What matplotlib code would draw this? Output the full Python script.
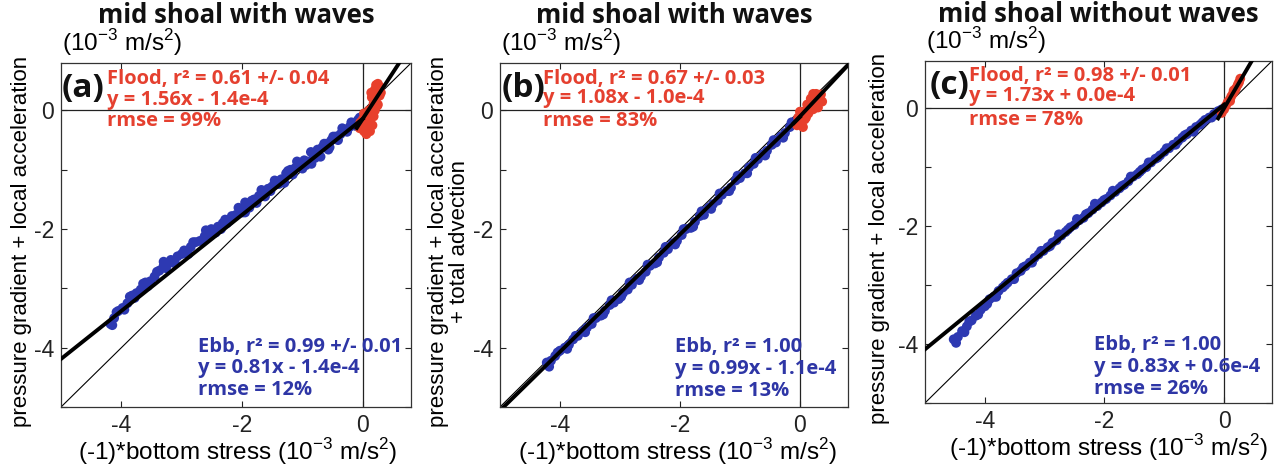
import numpy as np
import matplotlib
matplotlib.use('Agg')
import matplotlib.pyplot as plt

plt.rcParams['font.family'] = ['Liberation Sans', 'DejaVu Sans']
plt.rcParams['mathtext.fontset'] = 'custom'
plt.rcParams['mathtext.rm'] = 'Liberation Sans'

# ---- data (units 1e-3 m/s^2) ----
titles = ['mid shoal with waves', 'mid shoal with waves', 'mid shoal without waves']
panel_tags = ['(a)', '(b)', '(c)']
ylabels = ['pressure gradient + local acceleration',
           'pressure gradient + local acceleration\n+ total advection',
           'pressure gradient + local acceleration']

flood_fit = [(1.56, -0.14), (1.08, -0.10), (1.73, 0.00)]
ebb_fit = [(0.81, -0.14), (0.99, -0.11), (0.83, 0.06)]

flood_text = [['Flood, r\u00b2 = 0.61 +/- 0.04', 'y = 1.56x - 1.4e-4', 'rmse = 99%'],
              ['Flood, r\u00b2 = 0.67 +/- 0.03', 'y = 1.08x - 1.0e-4', 'rmse = 83%'],
              ['Flood, r\u00b2 = 0.98 +/- 0.01', 'y = 1.73x + 0.0e-4', 'rmse = 78%']]
ebb_text = [['Ebb, r\u00b2 = 0.99 +/- 0.01', 'y = 0.81x - 1.4e-4', 'rmse = 12%'],
            ['Ebb, r\u00b2 = 1.00', 'y = 0.99x - 1.1e-4', 'rmse = 13%'],
            ['Ebb, r\u00b2 = 1.00', 'y = 0.83x + 0.6e-4', 'rmse = 26%']]

# panel (a)
ebb_a_x = [-4.18, -4.12, -4.05, -3.98, -3.90, -3.82, -3.75, -3.68, -3.60, -3.52,
           -3.45, -3.37, -3.30, -3.22, -3.15, -3.07, -3.00, -2.93, -2.85, -2.77,
           -2.70, -2.62, -2.55, -2.47, -2.40, -2.32, -2.25, -2.17, -2.10, -2.02,
           -1.95, -1.88, -1.80, -1.72, -1.65, -1.57, -1.50, -1.42, -1.35, -1.27,
           -1.20, -1.12, -1.05, -0.97, -0.90, -0.82, -0.75, -0.67, -0.60, -0.52,
           -0.45, -0.37, -0.30, -0.22, -0.15, -0.08,
           -0.85, -0.70, -0.55, -1.30, -2.35, -1.62, -2.60, -1.95, -3.30, -1.00,
           -4.15, -4.08, -3.95, -3.86, -3.78, -3.64, -3.56, -3.41, -3.26, -3.18,
           -3.11, -2.96, -2.89, -2.81, -2.66, -2.51, -2.44, -2.28, -2.21, -2.06,
           -1.99, -1.84, -1.76, -1.68, -1.53, -1.46, -1.39, -1.24, -1.16, -1.09,
           -0.94, -0.86, -0.79, -0.64, -0.57, -0.49, -0.41, -0.34, -0.26, -0.19,
           -0.12, -0.05]
ebb_a_y = [-3.60, -3.50, -3.38, -3.33, -3.25, -3.12, -3.08, -3.02, -2.90, -2.88,
           -2.80, -2.70, -2.62, -2.58, -2.55, -2.46, -2.42, -2.40, -2.30, -2.22,
           -2.20, -2.12, -2.10, -2.02, -1.96, -1.90, -1.90, -1.78, -1.76, -1.68,
           -1.72, -1.64, -1.50, -1.44, -1.38, -1.32, -1.28, -1.20, -1.16, -1.06,
           -1.00, -0.97, -0.92, -0.84, -0.86, -0.74, -0.66, -0.62, -0.56, -0.50,
           -0.44, -0.40, -0.34, -0.28, -0.22, -0.16,
           -0.90, -0.78, -0.62, -1.22, -2.00, -1.45, -2.02, -1.55, -2.55, -0.98,
           -3.62, -3.40, -3.36, -3.14, -3.16, -2.92, -2.96, -2.72, -2.66, -2.52,
           -2.58, -2.36, -2.42, -2.22, -2.20, -2.00, -2.06, -1.84, -1.86, -1.64,
           -1.72, -1.52, -1.56, -1.34, -1.36, -1.18, -1.24, -1.02, -1.08, -0.86,
           -0.92, -0.70, -0.80, -0.56, -0.66, -0.44, -0.50, -0.30, -0.36, -0.20,
           -0.26, -0.12]
flood_a_x = [0.02, 0.06, 0.10, 0.04, 0.08, 0.12, 0.14, 0.10, 0.16, 0.20,
             0.18, 0.22, 0.15, 0.24, 0.20, 0.26, 0.22, 0.28, 0.06, 0.00, -0.04, 0.25,
             0.30, 0.28, 0.12, 0.16, 0.18, 0.24, -0.05, 0.02, 0.25, 0.14]
flood_a_y = [-0.35, -0.40, -0.30, -0.22, -0.15, -0.20, -0.05, 0.00, 0.05, 0.00,
             0.12, 0.20, 0.22, 0.30, 0.35, 0.40, 0.43, 0.25, -0.05, -0.15, -0.20, 0.10,
             0.30, 0.40, -0.35, -0.25, -0.10, 0.08, -0.30, -0.05, 0.45, 0.30]

# panel (b)
ebb_b_x = [-4.22, -4.15, -4.08, -4.00, -3.92, -3.85, -3.78, -3.70, -3.62, -3.55,
           -3.47, -3.40, -3.32, -3.25, -3.17, -3.10, -3.02, -2.95, -2.87, -2.80,
           -2.72, -2.65, -2.57, -2.50, -2.42, -2.35, -2.27, -2.20, -2.12, -2.05,
           -1.97, -1.90, -1.82, -1.75, -1.67, -1.60, -1.52, -1.45, -1.37, -1.30,
           -1.22, -1.15, -1.07, -1.00, -0.92, -0.85, -0.77, -0.70, -0.62, -0.55,
           -0.47, -0.40, -0.32, -0.25, -0.17, -0.10, -0.05,
           -4.18, -4.04, -3.88, -3.74, -3.58, -3.44, -3.28, -3.14, -2.98, -2.84,
           -2.68, -2.54, -2.38, -2.24, -2.08, -1.94, -1.78, -1.64, -1.48, -1.34,
           -1.18, -1.04, -0.88, -0.74, -0.58, -0.44, -0.28, -0.14]
ebb_b_y = [-4.25, -4.22, -4.14, -4.05, -4.00, -3.95, -3.86, -3.80, -3.72, -3.66,
           -3.60, -3.50, -3.46, -3.38, -3.28, -3.24, -3.18, -3.08, -3.02, -2.94,
           -2.84, -2.80, -2.72, -2.62, -2.58, -2.48, -2.40, -2.34, -2.24, -2.20,
           -2.10, -2.00, -1.98, -1.88, -1.78, -1.76, -1.64, -1.58, -1.52, -1.42,
           -1.36, -1.30, -1.18, -1.14, -1.06, -0.96, -0.90, -0.82, -0.74, -0.68,
           -0.58, -0.54, -0.44, -0.38, -0.28, -0.22, -0.16,
           -4.32, -4.08, -4.02, -3.80, -3.74, -3.50, -3.44, -3.20, -3.14, -2.90,
           -2.86, -2.60, -2.56, -2.30, -2.26, -2.00, -1.96, -1.70, -1.66, -1.40,
           -1.36, -1.10, -1.06, -0.80, -0.76, -0.50, -0.46, -0.20]
flood_b_x = [-0.03, 0.02, 0.05, 0.08, 0.10, 0.14, 0.15, 0.20, 0.22, 0.25,
             0.28, 0.30, 0.33, 0.35, 0.12, 0.00, 0.18, 0.27,
             0.37, 0.30, -0.05, 0.05, 0.22, 0.10]
flood_b_y = [-0.12, -0.20, -0.08, -0.15, 0.00, -0.05, 0.08, 0.10, 0.02, 0.18,
             0.12, 0.22, 0.20, 0.27, 0.10, -0.02, 0.20, 0.28,
             0.15, 0.05, -0.25, -0.28, 0.28, -0.12]

# panel (c)
ebb_c_x = [-4.52, -4.45, -4.38, -4.30, -4.22, -4.15, -4.07, -4.00, -3.92, -3.85,
           -3.77, -3.70, -3.62, -3.55, -3.47, -3.40, -3.32, -3.25, -3.17, -3.10,
           -3.02, -2.95, -2.87, -2.80, -2.72, -2.65, -2.57, -2.50, -2.42, -2.35,
           -2.27, -2.20, -2.12, -2.05, -1.97, -1.90, -1.82, -1.75, -1.67, -1.60,
           -1.52, -1.45, -1.37, -1.30, -1.22, -1.15, -1.07, -1.00, -0.92, -0.85,
           -0.77, -0.70, -0.62, -0.55, -0.47, -0.40, -0.32, -0.25, -0.17, -0.10, -0.04,
           -4.48, -4.34, -4.26, -4.11, -3.96, -3.81, -3.66, -3.51, -3.36, -3.21,
           -3.06, -2.91, -2.76, -2.61, -2.46, -2.31, -2.16, -2.01, -1.86, -1.71,
           -1.56, -1.41, -1.26, -1.11, -0.96, -0.81, -0.66, -0.51, -0.36, -0.21]
ebb_c_y = [-3.92, -3.88, -3.78, -3.70, -3.60, -3.52, -3.42, -3.36, -3.24, -3.20,
           -3.10, -3.04, -2.96, -2.90, -2.80, -2.76, -2.68, -2.62, -2.54, -2.48,
           -2.42, -2.36, -2.28, -2.24, -2.16, -2.10, -2.02, -1.98, -1.90, -1.86,
           -1.78, -1.72, -1.66, -1.60, -1.54, -1.48, -1.42, -1.36, -1.30, -1.24,
           -1.16, -1.12, -1.04, -1.00, -0.92, -0.86, -0.80, -0.74, -0.68, -0.62,
           -0.56, -0.50, -0.44, -0.38, -0.32, -0.28, -0.20, -0.16, -0.10, -0.05, -0.02,
           -3.98, -3.80, -3.62, -3.50, -3.32, -3.20, -3.00, -2.90, -2.70, -2.62,
           -2.42, -2.34, -2.14, -2.06, -1.88, -1.80, -1.62, -1.56, -1.40, -1.32,
           -1.16, -1.08, -0.92, -0.84, -0.68, -0.62, -0.46, -0.40, -0.24, -0.16]
flood_c_x = [-0.04, 0.00, 0.03, 0.06, 0.09, 0.12, 0.15, 0.18, 0.20, 0.23,
             0.25, 0.27, 0.10, 0.16]
flood_c_y = [-0.08, -0.02, 0.04, 0.10, 0.14, 0.20, 0.25, 0.30, 0.34, 0.40,
             0.44, 0.50, 0.12, 0.30]

ebb_x = [ebb_a_x, ebb_b_x, ebb_c_x]
ebb_y = [ebb_a_y, ebb_b_y, ebb_c_y]
flood_x = [flood_a_x, flood_b_x, flood_c_x]
flood_y = [flood_a_y, flood_b_y, flood_c_y]

# ---- layout (figure fractions) ----
axes_rect = [[0.0477, 0.1377, 0.2737, 0.7288],
             [0.3909, 0.1377, 0.2721, 0.7288],
             [0.7232, 0.1462, 0.2713, 0.7246]]
ylabel_x = [-0.114, -0.147, -0.130]
xlabel_x = [0.505, 0.51, 0.53]
flood_pos = [(-4.23, [0.45, 0.10, -0.27]), (-4.28, [0.45, 0.12, -0.27]), (-4.26, [0.46, 0.12, -0.29])]
ebb_pos = [(-2.73, [-4.07, -4.43, -4.80]), (-2.08, [-4.08, -4.45, -4.82]), (-2.18, [-4.10, -4.47, -4.84])]
tag_pos = [(-4.99, 0.22), (-4.97, 0.22), (-4.93, 0.24)]

red_dot = '#e8402c'
blue_dot = '#2d39b2'
red_txt = '#e5402f'
blue_txt = '#2e36a6'

fig = plt.figure(figsize=(12.79, 4.72), dpi=100)
lims = (-5, 0.8)

for i in range(3):
    ax = fig.add_axes(axes_rect[i])
    ax.set_xlim(lims)
    ax.set_ylim(lims)
    ax.axhline(0, color='#222222', lw=0.9, zorder=1)
    ax.axvline(0, color='#222222', lw=0.9, zorder=1)
    ax.plot(lims, lims, color='black', lw=0.8, zorder=2)

    ax.scatter(ebb_x[i], ebb_y[i], s=50, color=blue_dot, edgecolors='none', zorder=3)
    ax.scatter(flood_x[i], flood_y[i], s=50, color=red_dot, edgecolors='none', zorder=3)

    xe = np.array([-5.0, 0.0])
    m, b = ebb_fit[i]
    ax.plot(xe, m * xe + b, color='black', lw=2.8, zorder=4)
    xf = np.array([-0.1, 0.8])
    m, b = flood_fit[i]
    ax.plot(xf, m * xf + b, color='black', lw=2.8, zorder=4)

    ax.set_xticks([-4, -2, 0])
    ax.set_xticklabels(['-4', '-2', '0'])
    ax.set_yticks([-5, -4, -3, -2, -1, 0])
    ax.set_yticklabels(['', '-4', '', '-2', '', '0'])
    ax.tick_params(direction='in', length=4, width=0.8, top=True, right=True,
                   labelsize=16.5, pad=5, colors='#222222')
    for sp in ax.spines.values():
        sp.set_linewidth(0.9)
        sp.set_color('#333333')

    ax.text(xlabel_x[i], -0.154, '(-1)*bottom stress (10$^{\\mathregular{-3}}$ m/s$^{\\mathregular{2}}$)',
            transform=ax.transAxes, ha='center', va='baseline', fontsize=17.5)
    ax.text(ylabel_x[i], 0.48, ylabels[i], transform=ax.transAxes, rotation=90,
            ha='center', va='center', fontsize=16, linespacing=1.0)
    ax.text(0.003, 1.036, '(10$^{\\mathregular{-3}}$ m/s$^{\\mathregular{2}}$)',
            transform=ax.transAxes, ha='left', va='baseline', fontsize=17.5)
    ax.text(0.5, 1.115, titles[i], transform=ax.transAxes, ha='center', va='baseline',
            fontsize=18.5, fontweight='bold', family='Open Sans', color='#111111')

    tx, ty = tag_pos[i]
    ax.text(tx, ty, panel_tags[i], ha='left', va='baseline', fontsize=24,
            fontweight='bold', family='Open Sans', color='#111111', zorder=6)
    x0, ys = flood_pos[i]
    for y, s in zip(ys, flood_text[i]):
        ax.text(x0, y, s, color=red_txt, ha='left', va='baseline', fontsize=14.5,
                fontweight='bold', family='Open Sans', zorder=6)
    x0, ys = ebb_pos[i]
    for y, s in zip(ys, ebb_text[i]):
        ax.text(x0, y, s, color=blue_txt, ha='left', va='baseline', fontsize=14.5,
                fontweight='bold', family='Open Sans', zorder=6)

fig.savefig('out.png', dpi=100)
